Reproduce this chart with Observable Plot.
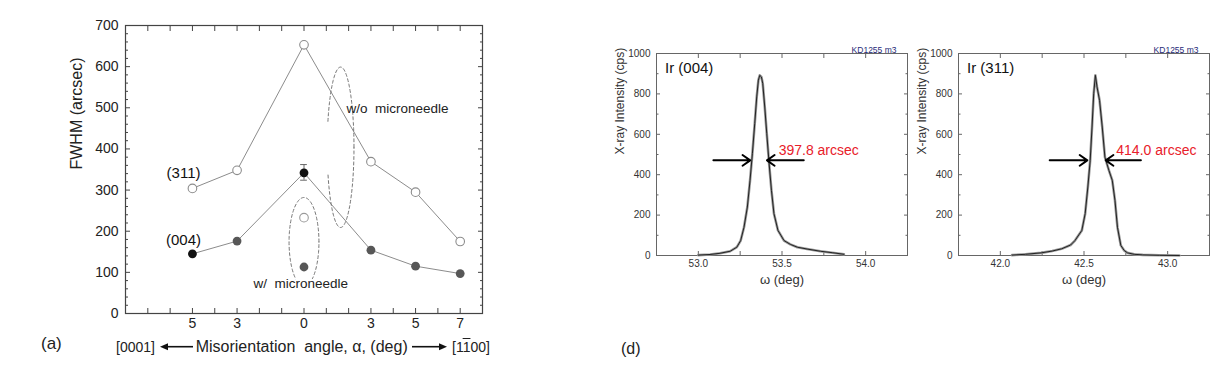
<!DOCTYPE html>
<html><head><meta charset="utf-8">
<script src="https://cdn.jsdelivr.net/npm/d3@7"></script>
<script src="https://cdn.jsdelivr.net/npm/@observablehq/plot@0.6"></script>
<style>
body{margin:0;background:#fff;}
#root{position:relative;width:1221px;height:367px;overflow:hidden;font-family:"Liberation Sans",Arial,Helvetica,sans-serif;background:#fff;}
.abs{position:absolute;white-space:nowrap;color:#222;line-height:1;}
.plotbox{position:absolute;}
.plotbox svg{max-width:none;}
</style></head><body><div id="root"></div>
<script>
const FONT = '"Liberation Sans", Arial, Helvetica, sans-serif';

// ---------- Panel (a) data ----------
const angles = [-5, -3, 0, 3, 5, 7];
const angleLabels = ["5", "3", "0", "3", "5", "7"];
const fwhm311 = [304, 348, 653, 369, 295, 175];
const fwhm004 = [145, 176, 342, 154, 115, 97];
const darkAngles004 = [-5, 0];
const microAngle = [0];
const micro311 = [233];
const micro004 = [113];
const err004 = [{angle: 0, low: 324, high: 362}];
const ellipses = [
  {id: "w", cx: 0, cy: 174, rx: 0.67, ry: 108},
  {id: "wo", cx: 1.64, cy: 404, rx: 0.6, ry: 195, gapLow: 342, gapHigh: 463}
];
const seriesLabels = [
  {t: "(311)", a: -5.4, v: 340, anchor: "middle", halo: false},
  {t: "(004)", a: -5.4, v: 178, anchor: "middle", halo: false},
  {t: "w/o\u00a0 microneedle", a: 1.9, v: 497, anchor: "start", halo: false},
  {t: "w/\u00a0 microneedle", a: -0.15, v: 73, anchor: "middle", halo: true}
];

// ---------- Panel (d) data ----------
const omega004 = [53.00, 53.07, 53.13, 53.19, 53.23, 53.253, 53.273, 53.293, 53.309, 53.323, 53.337, 53.349, 53.359, 53.367, 53.377, 53.385, 53.397, 53.409, 53.423, 53.437, 53.452, 53.476, 53.512, 53.55, 53.592, 53.65, 53.73, 53.8, 53.87];
const int004   = [2, 5, 11, 21, 41, 74, 140, 240, 372, 504, 653, 785, 868, 892, 884, 851, 735, 603, 455, 322, 207, 124, 74, 55, 41, 32, 21, 14, 6];
const omega311 = [42.07, 42.15, 42.244, 42.31, 42.366, 42.42, 42.446, 42.487, 42.507, 42.523, 42.537, 42.548, 42.558, 42.568, 42.578, 42.593, 42.609, 42.625, 42.649, 42.669, 42.685, 42.70, 42.72, 42.74, 42.76, 42.80, 42.851, 42.95, 43.07];
const int311   = [2, 6, 13, 22, 33, 52, 74, 124, 207, 339, 471, 636, 801, 892, 834, 768, 636, 487, 421, 372, 273, 140, 50, 25, 13, 6, 3, 1, 0];
const fwhmText = ["397.8 arcsec", "414.0 arcsec"];
const peakNames = ["Ir (004)", "Ir (311)"];
const arrows004 = [{from: 53.09, to: 53.31}, {from: 53.63, to: 53.41}];
const arrows311 = [{from: 42.295, to: 42.52}, {from: 42.84, to: 42.63}];
const arrowLevel = 471;
const textAt004 = {w: 53.48, i: 520};
const textAt311 = {w: 42.693, i: 520};
const domain004 = [52.75, 54.25];
const domain311 = [41.75, 43.25];
const xLabels004 = [53.0, 53.5, 54.0];
const xLabels311 = [42.0, 42.5, 43.0];
const sampleTag = "KD1255 m3";

const root = document.getElementById("root");
function place(node, left, top) {
  const d = document.createElement("div");
  d.className = "plotbox"; d.style.left = left + "px"; d.style.top = top + "px";
  d.appendChild(node); root.appendChild(d);
}
function addText(html, left, top, size, color) {
  const d = document.createElement("div");
  d.className = "abs"; d.style.left = left + "px"; d.style.top = top + "px";
  d.style.fontSize = size + "px"; if (color) d.style.color = color;
  d.innerHTML = html; root.appendChild(d);
}
function inwardTicks({xTicks, yMajor, yMinor, xLen, majorLen, minorLen, stroke}) {
  const base = {fill: "none", label: null, stroke};
  return [
    Plot.axisX({...base, anchor: "bottom", ticks: xTicks, tickSize: xLen, dy: -xLen}),
    Plot.axisX({...base, anchor: "top", ticks: xTicks, tickSize: xLen, dy: xLen}),
    Plot.axisY({...base, anchor: "left", ticks: yMajor, tickSize: majorLen, dx: majorLen}),
    Plot.axisY({...base, anchor: "right", ticks: yMajor, tickSize: majorLen, dx: -majorLen}),
    Plot.axisY({...base, anchor: "left", ticks: yMinor, tickSize: minorLen, dx: minorLen}),
    Plot.axisY({...base, anchor: "right", ticks: yMinor, tickSize: minorLen, dx: -minorLen})
  ];
}

// ---------- Panel (a) ----------
const s311 = angles.map((a, i) => ({a, v: fwhm311[i]}));
const s004 = angles.map((a, i) => ({a, v: fwhm004[i]}));
const microOpen = microAngle.map((a, i) => ({a, v: micro311[i]}));
const microFilled = microAngle.map((a, i) => ({a, v: micro004[i]}));
const ellPts = ellipses.flatMap(e => d3.range(161).map(k => {
  const t = 2 * Math.PI * k / 160;
  const a = e.cx + e.rx * Math.cos(t), v = e.cy + e.ry * Math.sin(t);
  const hidden = e.gapLow != null && Math.cos(t) < 0 && v > e.gapLow && v < e.gapHigh;
  return {id: e.id, a, v: hidden ? NaN : v};
}));

const plotA = Plot.plot({
  width: 500, height: 330,
  marginLeft: 125, marginRight: 18, marginTop: 25, marginBottom: 17,
  x: {domain: [-8, 8]}, y: {domain: [0, 700]},
  style: {fontFamily: FONT, background: "transparent", color: "#222", overflow: "visible"},
  marks: [
    ...inwardTicks({xTicks: d3.range(-7, 8), yMajor: d3.range(0, 701, 100), yMinor: d3.range(0, 701, 20).filter(v => v % 100),
      xLen: 5, majorLen: 5, minorLen: 3, stroke: "#444"}),
    Plot.axisY({anchor: "left", ticks: d3.range(0, 701, 100), tickSize: 0, tickPadding: 7, fontSize: 14, label: null}),
    Plot.axisX({anchor: "bottom", ticks: angles, tickFormat: d => angleLabels[angles.indexOf(d)], tickSize: 0, tickPadding: 5, fontSize: 14, label: null}),
    Plot.frame({stroke: "#444", strokeWidth: 1.2}),
    Plot.line(s311, {x: "a", y: "v", stroke: "#8c8c8c", strokeWidth: 1}),
    Plot.line(s004, {x: "a", y: "v", stroke: "#8c8c8c", strokeWidth: 1}),
    Plot.line(ellPts, {x: "a", y: "v", z: "id", stroke: "#777", strokeWidth: 1, strokeDasharray: "3,2.5"}),
    Plot.ruleX(err004, {x: "angle", y1: "low", y2: "high", stroke: "#666", strokeWidth: 1}),
    Plot.ruleY(err004, {y: "low", x1: d => d.angle - 0.15, x2: d => d.angle + 0.15, stroke: "#666"}),
    Plot.ruleY(err004, {y: "high", x1: d => d.angle - 0.15, x2: d => d.angle + 0.15, stroke: "#666"}),
    Plot.dot(s311, {x: "a", y: "v", r: 4.3, fill: "white", stroke: "#8c8c8c", strokeWidth: 1.1}),
    Plot.dot(microOpen, {x: "a", y: "v", r: 4.3, fill: "white", stroke: "#9a9a9a", strokeWidth: 1.1}),
    Plot.dot(s004, {x: "a", y: "v", r: 4.4, fill: d => darkAngles004.includes(d.a) ? "#111" : "#575757", stroke: "none"}),
    Plot.dot(microFilled, {x: "a", y: "v", r: 4.4, fill: "#575757", stroke: "none"}),
    Plot.text(seriesLabels.filter(d => d.t.startsWith("(")), {x: "a", y: "v", text: "t", textAnchor: "anchor", fontSize: 15, fill: "#111"}),
    Plot.text(seriesLabels.filter(d => !d.t.startsWith("(") && !d.halo), {x: "a", y: "v", text: "t", textAnchor: "start", fontSize: 13.5, fill: "#222"}),
    Plot.text(seriesLabels.filter(d => d.halo), {x: "a", y: "v", text: "t", textAnchor: "middle", fontSize: 13.5, fill: "#222", stroke: "white", strokeWidth: 4}),
    Plot.text(["FWHM (arcsec)"], {frameAnchor: "left", dx: -49, rotate: -90, fontSize: 16, fill: "#222"})
  ]
});
place(plotA, 0, 0);

// bottom caption row of panel (a)
addText("(a)", 41, 334.7, 17);
addText("[0001]", 116, 339.8, 14);
addText("Misorientation&nbsp; angle, α, (deg)", 195.7, 338.9, 16);
addText('[1<span style="text-decoration:overline">1</span>00]', 452, 339.8, 14);
const svgNS = "http://www.w3.org/2000/svg";
const arrSvg = document.createElementNS(svgNS, "svg");
arrSvg.setAttribute("width", 500); arrSvg.setAttribute("height", 367);
arrSvg.style.position = "absolute"; arrSvg.style.left = "0"; arrSvg.style.top = "0";
arrSvg.innerHTML = '<g stroke="#111" stroke-width="1.6" fill="#111">' +
  '<line x1="167" y1="346.7" x2="193" y2="346.7"/><path d="M160,346.7 L168,343.2 L168,350.2 Z" stroke="none"/>' +
  '<line x1="412" y1="346.7" x2="440" y2="346.7"/><path d="M447,346.7 L439,343.2 L439,350.2 Z" stroke="none"/></g>';
root.appendChild(arrSvg);

// ---------- Panel (d) ----------
function peakPlot({omega, inten, domain, xLabels, arrows, textAt, label, name}) {
  const rows = omega.map((w, i) => ({w, i: inten[i]}));
  const x0 = domain[0];
  return Plot.plot({
    width: 331, height: 300,
    marginLeft: 70, marginRight: 10, marginTop: 53, marginBottom: 45,
    x: {domain}, y: {domain: [0, 1000]},
    style: {fontFamily: FONT, background: "transparent", color: "#333", overflow: "visible"},
    marks: [
      ...inwardTicks({xTicks: d3.range(1, 6).map(k => x0 + 0.25 * k), yMajor: d3.range(0, 1001, 200), yMinor: d3.range(100, 1000, 200),
        xLen: 4, majorLen: 4, minorLen: 2.5, stroke: "#666"}),
      Plot.axisY({anchor: "left", ticks: d3.range(0, 1001, 200), tickFormat: d3.format("d"), tickSize: 0, tickPadding: 6, fontSize: 10, label: null}),
      Plot.axisX({anchor: "bottom", ticks: xLabels, tickFormat: d3.format(".1f"), tickSize: 0, tickPadding: 4, fontSize: 10, label: null}),
      Plot.frame({stroke: "#666", strokeWidth: 1}),
      Plot.line(rows, {x: "w", y: "i", stroke: "#9a9a9a", strokeWidth: 2.6}),
      Plot.line(rows, {x: "w", y: "i", stroke: "#222", strokeWidth: 1}),
      Plot.arrow(arrows, {x1: "from", x2: "to", y1: arrowLevel, y2: arrowLevel, stroke: "#000", strokeWidth: 2, headLength: 7, headAngle: 70}),
      Plot.text([textAt], {x: "w", y: "i", text: () => label, textAnchor: "start", fontSize: 14, fill: "#e8202a"}),
      Plot.text([name], {frameAnchor: "top-left", dx: 8.5, dy: 8.5, textAnchor: "start", fontSize: 15, fill: "#111"}),
      Plot.text([sampleTag], {frameAnchor: "top-right", dx: -11, dy: -6.6, textAnchor: "end", fontSize: 8.5, fill: "#1f2a78"}),
      Plot.text(["ω (deg)"], {frameAnchor: "bottom", dy: 28, fontSize: 13, fill: "#333"}),
      Plot.text(["X-ray Intensity (cps)"], {frameAnchor: "left", dx: -36, rotate: -90, fontSize: 12, fill: "#333"})
    ]
  });
}
place(peakPlot({omega: omega004, inten: int004, domain: domain004, xLabels: xLabels004, arrows: arrows004, textAt: textAt004, label: fwhmText[0], name: peakNames[0]}), 586, 0);
place(peakPlot({omega: omega311, inten: int311, domain: domain311, xLabels: xLabels311, arrows: arrows311, textAt: textAt311, label: fwhmText[1], name: peakNames[1]}), 888, 0);
addText("(d)", 621, 341, 16);
</script></body></html>
